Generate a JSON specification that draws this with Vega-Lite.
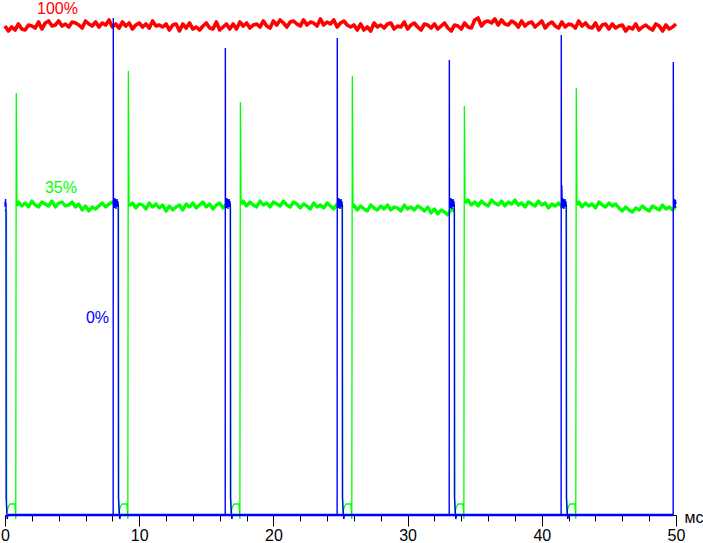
{
  "$schema": "https://vega.github.io/schema/vega-lite/v6.json",
  "width": 671,
  "height": 515,
  "autosize": "none",
  "padding": {"left": 5, "right": 27, "top": 0, "bottom": 28},
  "background": "white",
  "config": {"view": {"stroke": null}},
  "datasets": {
    "red": [
      {"t":0,"v":489},{"t":0.25,"v":484},{"t":0.5,"v":488},{"t":0.75,"v":485},{"t":1,"v":491},{"t":1.25,"v":486},{"t":1.5,"v":485},{"t":1.75,"v":490},
      {"t":2,"v":489},{"t":2.25,"v":487},{"t":2.5,"v":493},{"t":2.75,"v":486},{"t":3,"v":492},{"t":3.25,"v":494},{"t":3.5,"v":489},{"t":3.75,"v":490},
      {"t":4,"v":494},{"t":4.25,"v":489},{"t":4.5,"v":491},{"t":4.75,"v":488},{"t":5,"v":493},{"t":5.25,"v":492},{"t":5.5,"v":490},{"t":5.75,"v":487},
      {"t":6,"v":494},{"t":6.25,"v":491},{"t":6.5,"v":489},{"t":6.75,"v":493},{"t":7,"v":488},{"t":7.25,"v":492},{"t":7.5,"v":490},{"t":7.75,"v":495},
      {"t":8,"v":488},{"t":8.25,"v":491},{"t":8.5,"v":487},{"t":8.75,"v":493},{"t":9,"v":489},{"t":9.25,"v":492},{"t":9.5,"v":486},{"t":9.75,"v":490},
      {"t":10,"v":492},{"t":10.25,"v":488},{"t":10.5,"v":491},{"t":10.75,"v":487},{"t":11,"v":494},{"t":11.25,"v":489},{"t":11.5,"v":490},{"t":11.75,"v":488},
      {"t":12,"v":491},{"t":12.25,"v":485},{"t":12.5,"v":490},{"t":12.75,"v":491},{"t":13,"v":484},{"t":13.25,"v":491},{"t":13.5,"v":487},{"t":13.75,"v":492},
      {"t":14,"v":486},{"t":14.25,"v":488},{"t":14.5,"v":485},{"t":14.75,"v":489},{"t":15,"v":492},{"t":15.25,"v":487},{"t":15.5,"v":486},{"t":15.75,"v":493},
      {"t":16,"v":485},{"t":16.25,"v":488},{"t":16.5,"v":491},{"t":16.75,"v":486},{"t":17,"v":491},{"t":17.25,"v":486},{"t":17.5,"v":493},{"t":17.75,"v":489},
      {"t":18,"v":492},{"t":18.25,"v":487},{"t":18.5,"v":490},{"t":18.75,"v":491},{"t":19,"v":488},{"t":19.25,"v":494},{"t":19.5,"v":489},{"t":19.75,"v":487},
      {"t":20,"v":494},{"t":20.25,"v":490},{"t":20.5,"v":495},{"t":20.75,"v":492},{"t":21,"v":488},{"t":21.25,"v":493},{"t":21.5,"v":494},{"t":21.75,"v":491},
      {"t":22,"v":489},{"t":22.25,"v":495},{"t":22.5,"v":490},{"t":22.75,"v":493},{"t":23,"v":492},{"t":23.25,"v":489},{"t":23.5,"v":496},{"t":23.75,"v":490},
      {"t":24,"v":493},{"t":24.25,"v":491},{"t":24.5,"v":495},{"t":24.75,"v":488},{"t":25,"v":492},{"t":25.25,"v":494},{"t":25.5,"v":490},{"t":25.75,"v":488},
      {"t":26,"v":490},{"t":26.25,"v":485},{"t":26.5,"v":491},{"t":26.75,"v":485},{"t":27,"v":488},{"t":27.25,"v":484},{"t":27.5,"v":492},{"t":27.75,"v":488},
      {"t":28,"v":490},{"t":28.25,"v":487},{"t":28.5,"v":491},{"t":28.75,"v":492},{"t":29,"v":486},{"t":29.25,"v":489},{"t":29.5,"v":488},{"t":29.75,"v":493},
      {"t":30,"v":486},{"t":30.25,"v":490},{"t":30.5,"v":492},{"t":30.75,"v":488},{"t":31,"v":485},{"t":31.25,"v":491},{"t":31.5,"v":490},{"t":31.75,"v":487},
      {"t":32,"v":491},{"t":32.25,"v":486},{"t":32.5,"v":489},{"t":32.75,"v":492},{"t":33,"v":487},{"t":33.25,"v":484},{"t":33.5,"v":490},{"t":33.75,"v":489},
      {"t":34,"v":486},{"t":34.25,"v":492},{"t":34.5,"v":488},{"t":34.75,"v":487},{"t":35,"v":495},{"t":35.25,"v":497},{"t":35.5,"v":489},{"t":35.75,"v":493},
      {"t":36,"v":494},{"t":36.25,"v":492},{"t":36.5,"v":496},{"t":36.75,"v":490},{"t":37,"v":495},{"t":37.25,"v":491},{"t":37.5,"v":490},{"t":37.75,"v":494},
      {"t":38,"v":492},{"t":38.25,"v":488},{"t":38.5,"v":494},{"t":38.75,"v":489},{"t":39,"v":492},{"t":39.25,"v":493},{"t":39.5,"v":488},{"t":39.75,"v":491},
      {"t":40,"v":494},{"t":40.25,"v":487},{"t":40.5,"v":491},{"t":40.75,"v":493},{"t":41,"v":489},{"t":41.25,"v":487},{"t":41.5,"v":493},{"t":41.75,"v":488},
      {"t":42,"v":491},{"t":42.25,"v":490},{"t":42.5,"v":487},{"t":42.75,"v":494},{"t":43,"v":489},{"t":43.25,"v":492},{"t":43.5,"v":488},{"t":43.75,"v":487},
      {"t":44,"v":492},{"t":44.25,"v":485},{"t":44.5,"v":490},{"t":44.75,"v":491},{"t":45,"v":486},{"t":45.25,"v":491},{"t":45.5,"v":487},{"t":45.75,"v":489},
      {"t":46,"v":490},{"t":46.25,"v":484},{"t":46.5,"v":488},{"t":46.75,"v":486},{"t":47,"v":491},{"t":47.25,"v":485},{"t":47.5,"v":488},{"t":47.75,"v":490},
      {"t":48,"v":487},{"t":48.25,"v":485},{"t":48.5,"v":491},{"t":48.75,"v":489},{"t":49,"v":484},{"t":49.25,"v":490},{"t":49.5,"v":486},{"t":49.75,"v":488},
      {"t":50,"v":491}
    ],
    "green": [
      {"k":0,"t":0.89,"v":309},{"k":0,"t":1,"v":313},{"k":0,"t":1.25,"v":309},{"k":0,"t":1.5,"v":312},{"k":0,"t":1.75,"v":308},{"k":0,"t":2,"v":314},
      {"k":0,"t":2.25,"v":310},{"k":0,"t":2.5,"v":308},{"k":0,"t":2.75,"v":313},{"k":0,"t":3,"v":311},{"k":0,"t":3.25,"v":309},{"k":0,"t":3.5,"v":314},
      {"k":0,"t":3.75,"v":308},{"k":0,"t":4,"v":312},{"k":0,"t":4.25,"v":313},{"k":0,"t":4.5,"v":309},{"k":0,"t":4.75,"v":310},{"k":0,"t":5,"v":313},
      {"k":0,"t":5.25,"v":308},{"k":0,"t":5.5,"v":311},{"k":0,"t":5.75,"v":305},{"k":0,"t":6,"v":309},{"k":0,"t":6.25,"v":304},{"k":0,"t":6.5,"v":308},
      {"k":0,"t":6.75,"v":306},{"k":0,"t":7,"v":309},{"k":0,"t":7.25,"v":312},{"k":0,"t":7.5,"v":308},{"k":0,"t":7.75,"v":311},{"k":0,"t":8,"v":313},
      {"k":0,"t":8.25,"v":309},{"k":0,"t":8.46,"v":310},
      {"k":1,"t":9.24,"v":309},{"k":1,"t":9.5,"v":312},{"k":1,"t":9.75,"v":307},{"k":1,"t":10,"v":311},{"k":1,"t":10.25,"v":310},{"k":1,"t":10.5,"v":306},
      {"k":1,"t":10.75,"v":312},{"k":1,"t":11,"v":308},{"k":1,"t":11.25,"v":311},{"k":1,"t":11.5,"v":307},{"k":1,"t":11.75,"v":310},{"k":1,"t":12,"v":304},
      {"k":1,"t":12.25,"v":309},{"k":1,"t":12.5,"v":305},{"k":1,"t":12.75,"v":308},{"k":1,"t":13,"v":310},{"k":1,"t":13.25,"v":305},{"k":1,"t":13.5,"v":311},
      {"k":1,"t":13.75,"v":308},{"k":1,"t":14,"v":312},{"k":1,"t":14.25,"v":307},{"k":1,"t":14.5,"v":310},{"k":1,"t":14.75,"v":313},{"k":1,"t":15,"v":308},
      {"k":1,"t":15.25,"v":311},{"k":1,"t":15.5,"v":306},{"k":1,"t":15.75,"v":310},{"k":1,"t":16,"v":312},{"k":1,"t":16.25,"v":307},{"k":1,"t":16.5,"v":311},
      {"k":1,"t":16.81,"v":309},
      {"k":2,"t":17.59,"v":311},{"k":2,"t":17.75,"v":314},{"k":2,"t":18,"v":309},{"k":2,"t":18.25,"v":313},{"k":2,"t":18.5,"v":310},{"k":2,"t":18.75,"v":308},
      {"k":2,"t":19,"v":314},{"k":2,"t":19.25,"v":310},{"k":2,"t":19.5,"v":312},{"k":2,"t":19.75,"v":308},{"k":2,"t":20,"v":313},{"k":2,"t":20.25,"v":311},
      {"k":2,"t":20.5,"v":309},{"k":2,"t":20.75,"v":314},{"k":2,"t":21,"v":310},{"k":2,"t":21.25,"v":308},{"k":2,"t":21.5,"v":313},{"k":2,"t":21.75,"v":311},
      {"k":2,"t":22,"v":307},{"k":2,"t":22.25,"v":311},{"k":2,"t":22.5,"v":309},{"k":2,"t":22.75,"v":306},{"k":2,"t":23,"v":312},{"k":2,"t":23.25,"v":308},
      {"k":2,"t":23.5,"v":310},{"k":2,"t":23.75,"v":307},{"k":2,"t":24,"v":312},{"k":2,"t":24.25,"v":309},{"k":2,"t":24.5,"v":306},{"k":2,"t":24.75,"v":311},
      {"k":2,"t":25,"v":308},{"k":2,"t":25.15,"v":310},
      {"k":3,"t":25.93,"v":307},{"k":3,"t":26,"v":310},{"k":3,"t":26.25,"v":305},{"k":3,"t":26.5,"v":309},{"k":3,"t":26.75,"v":306},{"k":3,"t":27,"v":304},
      {"k":3,"t":27.25,"v":310},{"k":3,"t":27.5,"v":307},{"k":3,"t":27.75,"v":305},{"k":3,"t":28,"v":309},{"k":3,"t":28.25,"v":306},{"k":3,"t":28.5,"v":310},
      {"k":3,"t":28.75,"v":305},{"k":3,"t":29,"v":308},{"k":3,"t":29.25,"v":307},{"k":3,"t":29.5,"v":304},{"k":3,"t":29.75,"v":310},{"k":3,"t":30,"v":306},
      {"k":3,"t":30.25,"v":308},{"k":3,"t":30.5,"v":305},{"k":3,"t":30.75,"v":309},{"k":3,"t":31,"v":307},{"k":3,"t":31.25,"v":304},{"k":3,"t":31.5,"v":308},
      {"k":3,"t":31.75,"v":302},{"k":3,"t":32,"v":306},{"k":3,"t":32.25,"v":301},{"k":3,"t":32.5,"v":305},{"k":3,"t":32.75,"v":303},{"k":3,"t":33,"v":300},
      {"k":3,"t":33.25,"v":306},{"k":3,"t":33.5,"v":304},
      {"k":4,"t":34.28,"v":312},{"k":4,"t":34.5,"v":315},{"k":4,"t":34.75,"v":310},{"k":4,"t":35,"v":313},{"k":4,"t":35.25,"v":309},{"k":4,"t":35.5,"v":314},
      {"k":4,"t":35.75,"v":311},{"k":4,"t":36,"v":309},{"k":4,"t":36.25,"v":315},{"k":4,"t":36.5,"v":312},{"k":4,"t":36.75,"v":310},{"k":4,"t":37,"v":314},
      {"k":4,"t":37.25,"v":309},{"k":4,"t":37.5,"v":313},{"k":4,"t":37.75,"v":311},{"k":4,"t":38,"v":315},{"k":4,"t":38.25,"v":310},{"k":4,"t":38.5,"v":312},
      {"k":4,"t":38.75,"v":308},{"k":4,"t":39,"v":313},{"k":4,"t":39.25,"v":311},{"k":4,"t":39.5,"v":309},{"k":4,"t":39.75,"v":314},{"k":4,"t":40,"v":310},
      {"k":4,"t":40.25,"v":312},{"k":4,"t":40.5,"v":307},{"k":4,"t":40.75,"v":311},{"k":4,"t":41,"v":309},{"k":4,"t":41.25,"v":312},{"k":4,"t":41.5,"v":308},
      {"k":4,"t":41.84,"v":310},
      {"k":5,"t":42.62,"v":310},{"k":5,"t":42.75,"v":313},{"k":5,"t":43,"v":308},{"k":5,"t":43.25,"v":312},{"k":5,"t":43.5,"v":309},{"k":5,"t":43.75,"v":311},
      {"k":5,"t":44,"v":307},{"k":5,"t":44.25,"v":313},{"k":5,"t":44.5,"v":310},{"k":5,"t":44.75,"v":308},{"k":5,"t":45,"v":312},{"k":5,"t":45.25,"v":309},
      {"k":5,"t":45.5,"v":311},{"k":5,"t":45.75,"v":307},{"k":5,"t":46,"v":304},{"k":5,"t":46.25,"v":308},{"k":5,"t":46.5,"v":305},{"k":5,"t":46.75,"v":303},
      {"k":5,"t":47,"v":307},{"k":5,"t":47.25,"v":305},{"k":5,"t":47.5,"v":309},{"k":5,"t":47.75,"v":306},{"k":5,"t":48,"v":304},{"k":5,"t":48.25,"v":309},
      {"k":5,"t":48.5,"v":307},{"k":5,"t":48.75,"v":305},{"k":5,"t":49,"v":310},{"k":5,"t":49.25,"v":306},{"k":5,"t":49.5,"v":308},{"k":5,"t":49.75,"v":305},
      {"k":5,"t":50,"v":309}
    ],
    "greenT": [
      {"k":0,"t":0,"v":306},{"k":0,"t":0.05,"v":303},{"k":0,"t":0.11,"v":305},{"k":0,"t":0.125,"v":2},{"k":0,"t":0.244,"v":8},{"k":0,"t":0.37,"v":11},
      {"k":0,"t":0.743,"v":11},{"k":0,"t":0.803,"v":-4},{"k":0,"t":0.84,"v":422},{"k":0,"t":0.89,"v":309},
      {"k":1,"t":8.46,"v":310},{"k":1,"t":8.475,"v":2},{"k":1,"t":8.594,"v":8},{"k":1,"t":8.72,"v":11},{"k":1,"t":9.093,"v":11},{"k":1,"t":9.153,"v":-4},
      {"k":1,"t":9.19,"v":444},{"k":1,"t":9.24,"v":309},
      {"k":2,"t":16.81,"v":309},{"k":2,"t":16.825,"v":2},{"k":2,"t":16.944,"v":8},{"k":2,"t":17.07,"v":11},{"k":2,"t":17.443,"v":11},{"k":2,"t":17.503,"v":-4},
      {"k":2,"t":17.54,"v":413},{"k":2,"t":17.59,"v":311},
      {"k":3,"t":25.15,"v":310},{"k":3,"t":25.165,"v":2},{"k":3,"t":25.284,"v":8},{"k":3,"t":25.41,"v":11},{"k":3,"t":25.783,"v":11},{"k":3,"t":25.843,"v":-4},
      {"k":3,"t":25.88,"v":439},{"k":3,"t":25.93,"v":307},
      {"k":4,"t":33.5,"v":304},{"k":4,"t":33.515,"v":2},{"k":4,"t":33.634,"v":8},{"k":4,"t":33.76,"v":11},{"k":4,"t":34.133,"v":11},{"k":4,"t":34.193,"v":-4},
      {"k":4,"t":34.23,"v":409},{"k":4,"t":34.28,"v":312},
      {"k":5,"t":41.84,"v":310},{"k":5,"t":41.855,"v":2},{"k":5,"t":41.974,"v":8},{"k":5,"t":42.1,"v":11},{"k":5,"t":42.473,"v":11},{"k":5,"t":42.533,"v":-4},
      {"k":5,"t":42.57,"v":427},{"k":5,"t":42.62,"v":310}
    ],
    "blue": [
      {"t":0,"v":313},{"t":0.02,"v":308},{"t":0.04,"v":316},{"t":0.06,"v":309},{"t":0.075,"v":312},{"t":0.085,"v":17},{"t":0.16,"v":-4},{"t":0.22,"v":0},
      {"t":8.06,"v":0},{"t":8.07,"v":497},{"t":8.08,"v":312},{"t":8.11,"v":316},{"t":8.14,"v":307},{"t":8.17,"v":317},{"t":8.2,"v":308},{"t":8.23,"v":316},
      {"t":8.26,"v":306},{"t":8.29,"v":315},{"t":8.32,"v":309},{"t":8.35,"v":316},{"t":8.38,"v":308},{"t":8.41,"v":314},{"t":8.44,"v":310},{"t":8.455,"v":17},
      {"t":8.55,"v":-4},{"t":8.61,"v":0},
      {"t":16.41,"v":0},{"t":16.42,"v":467},{"t":16.43,"v":312},{"t":16.46,"v":316},{"t":16.49,"v":307},{"t":16.52,"v":317},{"t":16.55,"v":308},{"t":16.58,"v":316},
      {"t":16.61,"v":306},{"t":16.64,"v":315},{"t":16.67,"v":309},{"t":16.7,"v":316},{"t":16.73,"v":308},{"t":16.76,"v":314},{"t":16.79,"v":310},{"t":16.805,"v":17},
      {"t":16.9,"v":-4},{"t":16.96,"v":0},
      {"t":24.75,"v":0},{"t":24.76,"v":477},{"t":24.77,"v":312},{"t":24.8,"v":316},{"t":24.83,"v":307},{"t":24.86,"v":317},{"t":24.89,"v":308},{"t":24.92,"v":316},
      {"t":24.95,"v":306},{"t":24.98,"v":315},{"t":25.01,"v":309},{"t":25.04,"v":316},{"t":25.07,"v":308},{"t":25.1,"v":314},{"t":25.13,"v":310},{"t":25.145,"v":17},
      {"t":25.24,"v":-4},{"t":25.3,"v":0},
      {"t":33.1,"v":0},{"t":33.11,"v":455},{"t":33.12,"v":312},{"t":33.15,"v":316},{"t":33.18,"v":307},{"t":33.21,"v":317},{"t":33.24,"v":308},{"t":33.27,"v":316},
      {"t":33.3,"v":306},{"t":33.33,"v":315},{"t":33.36,"v":309},{"t":33.39,"v":316},{"t":33.42,"v":308},{"t":33.45,"v":314},{"t":33.48,"v":310},{"t":33.495,"v":17},
      {"t":33.59,"v":-4},{"t":33.65,"v":0},
      {"t":41.44,"v":0},{"t":41.45,"v":480},{"t":41.46,"v":312},{"t":41.49,"v":330},{"t":41.52,"v":307},{"t":41.55,"v":317},{"t":41.58,"v":308},{"t":41.61,"v":316},
      {"t":41.64,"v":306},{"t":41.67,"v":315},{"t":41.7,"v":309},{"t":41.73,"v":316},{"t":41.76,"v":308},{"t":41.79,"v":314},{"t":41.82,"v":310},{"t":41.835,"v":17},
      {"t":41.93,"v":-4},{"t":41.99,"v":0},
      {"t":49.79,"v":0},{"t":49.8,"v":453},{"t":49.81,"v":312},{"t":49.84,"v":316},{"t":49.87,"v":308},{"t":49.9,"v":316},{"t":49.93,"v":307},{"t":49.96,"v":315},
      {"t":50,"v":311}
    ],
    "labels": [
      {"s":"r","t":3.91,"v":501,"lab":"100%"},
      {"s":"g","t":4.17,"v":322,"lab":"35%"},
      {"s":"b","t":6.89,"v":192,"lab":"0%"}
    ]
  },
  "encoding": {
    "x": {
      "field": "t",
      "type": "quantitative",
      "scale": {"domain": [0, 50], "nice": false},
      "axis": {
        "values": [0, 2, 4, 6, 8, 10, 12, 14, 16, 18, 20, 22, 24, 26, 28, 30, 32, 34, 36, 38, 40, 42, 44, 46, 48, 50],
        "labelExpr": "datum.value % 10 === 0 ? datum.label : ''",
        "tickSize": {"condition": {"test": "datum.value % 10 === 0", "value": 11}, "value": 6},
        "tickColor": "#000000",
        "domainColor": "#000000",
        "grid": false,
        "labelFont": "Liberation Sans",
        "labelFontSize": 16,
        "labelColor": "#000000",
        "labelPadding": 1,
        "labelFlush": false,
        "labelOverlap": false,
        "title": "мс",
        "titleFont": "Liberation Sans",
        "titleFontSize": 16,
        "titleFontWeight": "normal",
        "titleColor": "#000000",
        "titleX": 679,
        "titleY": 7,
        "titleAlign": "left",
        "titleBaseline": "alphabetic"
      }
    },
    "y": {
      "field": "v",
      "type": "quantitative",
      "scale": {"domain": [0, 515], "nice": false, "zero": false},
      "axis": null
    }
  },
  "layer": [
    {
      "data": {"name": "red"},
      "mark": {"type": "line", "color": "#ff0000", "strokeWidth": 3.6, "strokeJoin": "round"}
    },
    {
      "data": {"name": "green"},
      "mark": {"type": "line", "color": "#00ff00", "strokeWidth": 3.3, "strokeJoin": "round"},
      "encoding": {"detail": {"field": "k", "type": "nominal"}}
    },
    {
      "data": {"name": "greenT"},
      "mark": {"type": "line", "color": "#00ff00", "strokeWidth": 1.3, "strokeJoin": "bevel"},
      "encoding": {"detail": {"field": "k", "type": "nominal"}}
    },
    {
      "data": {"name": "blue"},
      "mark": {"type": "line", "color": "#0000ff", "strokeWidth": 1.4, "strokeJoin": "bevel"}
    },
    {
      "data": {"name": "blue"},
      "transform": [{"filter": "datum.v === 0"}],
      "mark": {"type": "line", "color": "#0000ff", "strokeWidth": 2.6}
    },
    {
      "data": {"name": "labels"},
      "mark": {"type": "text", "font": "Liberation Sans", "fontSize": 16, "align": "center", "baseline": "alphabetic"},
      "encoding": {
        "text": {"field": "lab", "type": "nominal"},
        "color": {
          "field": "s",
          "type": "nominal",
          "scale": {"domain": ["r", "g", "b"], "range": ["#ff0000", "#00ff00", "#0000ff"]},
          "legend": null
        }
      }
    }
  ]
}
